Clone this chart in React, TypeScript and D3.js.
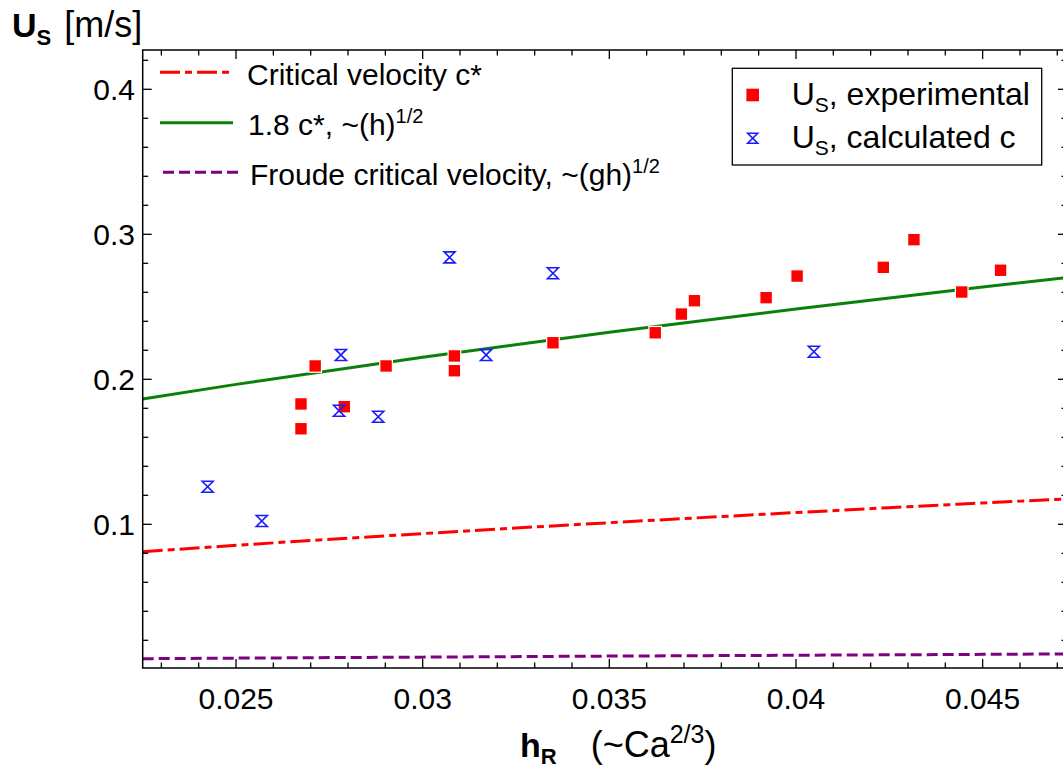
import React from "react";
import * as d3 from "d3";

// ---- data ----
const hExp = [0.02674, 0.02674, 0.02712, 0.0279, 0.02902, 0.03085, 0.03085, 0.03349, 0.03623, 0.03693, 0.03728, 0.0392, 0.04003, 0.04234, 0.04316, 0.04444, 0.04548];
const uExp = [0.183, 0.1659, 0.2092, 0.1811, 0.2092, 0.2161, 0.2059, 0.2252, 0.2321, 0.245, 0.2542, 0.2563, 0.2712, 0.2772, 0.2963, 0.2602, 0.2752];

const hCalc = [0.02424, 0.02569, 0.02781, 0.02776, 0.02881, 0.03072, 0.0317, 0.03349, 0.04048];
const uCalc = [0.1259, 0.1023, 0.2168, 0.1783, 0.1742, 0.2841, 0.2168, 0.2731, 0.219];

const hLine = [0.0225, 0.025, 0.03, 0.035, 0.04, 0.045, 0.0473];
const critVel = [0.0811, 0.0855, 0.0936, 0.1011, 0.1081, 0.1147, 0.1176];
const fit18 = [0.1864, 0.1965, 0.2152, 0.2325, 0.2485, 0.2636, 0.2703];
const froude = [0.0073, 0.0077, 0.0084, 0.0091, 0.0097, 0.0103, 0.0106];

const xMajor = [0.025, 0.03, 0.035, 0.04, 0.045];
const xMajorLabels = ["0.025", "0.03", "0.035", "0.04", "0.045"];
const yMajor = [0.1, 0.2, 0.3, 0.4];
const yMajorLabels = ["0.1", "0.2", "0.3", "0.4"];

const FONT = "'Liberation Sans', Arial, sans-serif";

export default function App() {
  const left = 142.7, right = 1067, top = 50, bottom = 668;
  const x = d3.scaleLinear().domain([0.0225, 0.04726]).range([left, right]);
  const y = d3.scaleLinear().domain([0.0009, 0.4271]).range([bottom, top]);

  const xMinor = d3.range(23, 48).map((v) => v / 1000).filter((v) => !xMajor.some((m) => Math.abs(m - v) < 1e-9));
  const yMinor = d3.range(1, 22).map((v) => v * 0.02).filter((v) => !yMajor.some((m) => Math.abs(m - v) < 1e-9));

  const line = d3
    .line<number>()
    .x((_, i) => x(hLine[i]))
    .y((d) => y(d))
    .curve(d3.curveMonotoneX);

  const hg = (s: number) => `M${-s},${-s}H${s}L${-s},${s}H${s}Z`;

  return (
    <svg
      width={1063}
      height={769}
      style={{ position: "absolute", left: 0, top: 0, background: "#fff" }}
      fontFamily={FONT}
    >
      <defs>
        <clipPath id="plot">
          <rect x={left} y={top} width={right - left} height={bottom - top} />
        </clipPath>
      </defs>

      {/* lines */}
      <g clipPath="url(#plot)" fill="none">
        <path d={line(froude) || ""} stroke="#800080" strokeWidth={3} strokeDasharray="11 5" />
        <path d={line(critVel) || ""} stroke="#ff0000" strokeWidth={3} strokeDasharray="20 5 7 5" />
        <path d={line(fit18) || ""} stroke="#0a800a" strokeWidth={3} />
      </g>

      {/* experimental squares */}
      <g>
        {hExp.map((h, i) => (
          <rect key={i} x={x(h) - 6.3} y={y(uExp[i]) - 6.3} width={12.6} height={12.6} fill="#ff0000" stroke="#fff" strokeWidth={1.2} />
        ))}
      </g>
      {/* calculated hourglasses */}
      <g>
        {hCalc.map((h, i) => (
          <path key={i} d={hg(5.5)} transform={`translate(${x(h)},${y(uCalc[i])})`} fill="none" stroke="#1a1aff" strokeWidth={1.6} />
        ))}
      </g>

      {/* frame */}
      <rect x={left} y={top} width={right - left} height={bottom - top} fill="none" stroke="#000" strokeWidth={1.5} />

      {/* ticks */}
      <g stroke="#000" strokeWidth={1.3}>
        {xMajor.map((v) => (
          <g key={"xM" + v}>
            <line x1={x(v)} x2={x(v)} y1={bottom} y2={bottom - 9} />
            <line x1={x(v)} x2={x(v)} y1={top} y2={top + 9} />
          </g>
        ))}
        {xMinor.map((v) => (
          <g key={"xm" + v}>
            <line x1={x(v)} x2={x(v)} y1={bottom} y2={bottom - 5.5} />
            <line x1={x(v)} x2={x(v)} y1={top} y2={top + 5.5} />
          </g>
        ))}
        {yMajor.map((v) => (
          <g key={"yM" + v}>
            <line x1={left} x2={left + 9} y1={y(v)} y2={y(v)} />
            <line x1={right} x2={right - 9} y1={y(v)} y2={y(v)} />
          </g>
        ))}
        {yMinor.map((v) => (
          <g key={"ym" + v}>
            <line x1={left} x2={left + 5.5} y1={y(v)} y2={y(v)} />
            <line x1={right} x2={right - 5.5} y1={y(v)} y2={y(v)} />
          </g>
        ))}
      </g>

      {/* tick labels */}
      <g fontSize={30} fill="#000">
        {xMajor.map((v, i) => (
          <text key={"xl" + v} x={x(v)} y={709} textAnchor="middle">
            {xMajorLabels[i]}
          </text>
        ))}
        {yMajor.map((v, i) => (
          <text key={"yl" + v} x={135} y={y(v)} textAnchor="end" dominantBaseline="central">
            {yMajorLabels[i]}
          </text>
        ))}
      </g>

      {/* axis titles */}
      <text x={12} y={37} fontSize={34} fill="#000">
        <tspan fontWeight="bold">U</tspan>
        <tspan fontWeight="bold" fontSize={22} dy={8}>S</tspan>
        <tspan dy={-8} dx={13} fontSize={36}>[m/s]</tspan>
      </text>
      <text x={520} y={757} fontSize={34} fill="#000">
        <tspan fontWeight="bold">h</tspan>
        <tspan fontWeight="bold" fontSize={22} dy={7}>R</tspan>
        <tspan dy={-7} dx={34} fontSize={36}>(~Ca</tspan>
        <tspan fontSize={25} dy={-14}>2/3</tspan>
        <tspan dy={14} fontSize={36}>)</tspan>
      </text>

      {/* left legend */}
      <g fontSize={30} fill="#000">
        <line x1={160} x2={233} y1={72.3} y2={72.3} stroke="#ff0000" strokeWidth={3} strokeDasharray="20 5 7 5" />
        <text x={247} y={85}>Critical velocity c*</text>
        <line x1={160} x2={233} y1={122.7} y2={122.7} stroke="#0a800a" strokeWidth={3} />
        <text x={248} y={135}>
          1.8 c*, ~(h)<tspan fontSize={20} dy={-12}>1/2</tspan>
        </text>
        <line x1={163} x2={238} y1={172.3} y2={172.3} stroke="#800080" strokeWidth={3} strokeDasharray="11 5" />
        <text x={250} y={185}>
          Froude critical velocity, ~(gh)<tspan fontSize={20} dy={-12}>1/2</tspan>
        </text>
      </g>

      {/* right legend */}
      <g fontSize={32} fill="#000">
        <rect x={732.3} y={68.3} width={309.4} height={96.7} fill="#fff" stroke="#000" strokeWidth={1.3} />
        <rect x={752.7 - 6.3} y={95 - 6.3} width={12.6} height={12.6} fill="#ff0000" />
        <text x={791.7} y={105}>
          U<tspan fontSize={21} dy={7}>S</tspan>
          <tspan dy={-7}>, experimental</tspan>
        </text>
        <path d={hg(5)} transform="translate(752.7,138.3)" fill="none" stroke="#1a1aff" strokeWidth={1.6} />
        <text x={791.7} y={148.3}>
          U<tspan fontSize={21} dy={7}>S</tspan>
          <tspan dy={-7}>, calculated c</tspan>
        </text>
      </g>
    </svg>
  );
}
